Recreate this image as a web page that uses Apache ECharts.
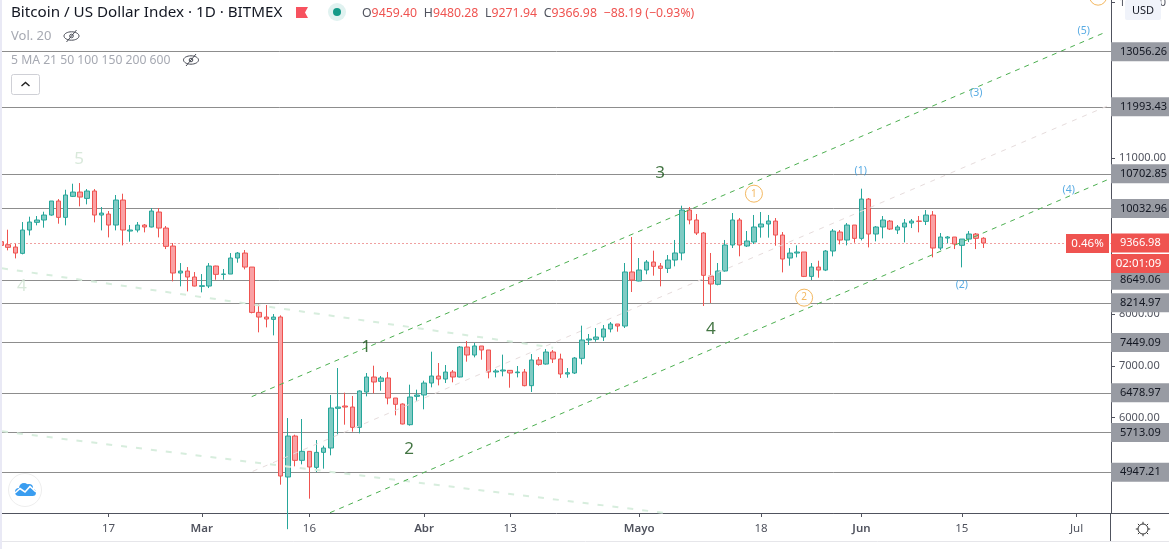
<!DOCTYPE html>
<html><head><meta charset="utf-8">
<style>html,body{margin:0;padding:0;background:#fff}#c{width:1169px;height:549px}</style>
<script src="https://cdn.jsdelivr.net/npm/echarts@6/dist/echarts.min.js"></script>
</head><body><div id="c"></div>
<script>
// day index 0 = 2020-02-02; one value per daily candle
const opens=[9393,9335,9290,9168,9618,9766,9811,9907,10177,9862,10267,10350,10228,10370,9907,9926,9714,10196,9598,9618,9714,9676,9965,9656,9309,8789,8827,8712,8532,8538,8924,8763,8769,9078,9174,8904,8030,7940,7895,7941,4856,5646,5177,5351,5042,5331,5415,6180,6225,6205,5813,6495,6784,6700,6765,6379,6263,5865,6411,6437,6668,6803,6745,6880,6784,7362,7208,7382,7305,6880,6900,6912,6867,6880,6617,7112,7034,7266,7131,6842,6861,7144,7497,7510,7555,7710,7806,7767,8809,8635,8847,9001,8924,8879,9040,9175,10004,9811,9560,8731,8571,8828,9329,9811,9310,9387,9676,9734,9791,9521,9078,9174,9194,8724,8904,8846,9213,9579,9425,9714,9457,10215,9541,9676,9791,9618,9676,9753,9791,9785,9907,9271,9463,9483,9322,9444,9541,9459.40];
const closes=[9322,9284,9174,9618,9772,9811,9907,10177,9862,10293,10350,10254,10370,9907,9945,9714,10196,9618,9618,9714,9676,9984,9656,9303,8789,8827,8712,8538,8544,8924,8763,8769,9078,9174,8904,8030,7940,7902,7940,4875,5646,5177,5351,5049,5331,5415,6186,6205,6205,5813,6514,6784,6688,6765,6379,6257,5878,6398,6437,6668,6803,6745,6880,6784,7362,7208,7382,7305,6880,6900,6919,6861,6880,6617,7112,7028,7266,7131,6842,6867,7150,7497,7517,7555,7710,7806,7767,8809,8654,8847,9001,8918,8879,9040,9175,10004,9811,9560,8744,8577,8828,9329,9811,9329,9406,9676,9734,9792,9521,9059,9174,9194,8724,8904,8846,9213,9598,9425,9714,9457,10215,9541,9676,9811,9637,9676,9753,9791,9785,9907,9271,9483,9483,9348,9444,9541,9457,9366.98];
const lows=[9303,9226,9071,9149,9515,9708,9663,9894,9740,9708,10254,10074,10113,9766,9611,9476,9611,9322,9393,9573,9573,9669,9476,9251,8628,8532,8435,8532,8416,8499,8660,8660,8769,8988,8859,8011,7645,7741,7587,4708,3850,5062,5100,4438,4952,5017,5274,5678,5865,5730,5698,6411,6469,6520,6257,6045,5871,5846,6328,6161,6585,6623,6668,6681,6777,7080,7163,7118,6758,6777,6797,6578,6777,6604,6495,7002,7022,7054,6764,6771,6842,7028,7401,7465,7478,7645,7658,7729,8423,8629,8764,8738,8532,8789,8918,9034,9728,9522,8153,8211,8552,8815,9271,9111,9291,9348,9471,9471,9316,8801,8930,9091,8711,8654,8699,8827,9110,9341,9322,9373,9418,9283,9399,9457,9618,9541,9380,9656,9573,9714,9091,9232,9361,9251,8898,9386,9251,9271.94];
const highs=[9431,9624,9354,9772,9875,9888,9971,10177,10215,10395,10511,10524,10408,10408,10061,9984,10293,10318,9714,9772,9733,10042,10042,9695,9367,8981,8904,8808,8769,8981,8930,8866,9174,9194,9232,8904,8197,8172,7998,7973,5993,5672,5974,5351,5569,5460,6437,6957,6482,6418,6527,6861,7002,6803,6880,6379,6276,6636,6540,6713,7272,7054,7015,6919,7382,7478,7439,7382,7305,6938,7215,6919,6996,6938,7227,7169,7324,7304,7234,6957,7169,7774,7613,7729,7787,7844,7806,8982,9483,9078,9040,9220,8982,9136,9426,10087,10062,9927,9580,9175,8982,9426,9946,9850,9599,9908,9965,9908,9849,9579,9271,9322,9194,8981,9026,9232,9637,9618,9753,9714,10415,10235,9695,9888,9811,9714,9830,9830,9888,10003,9984,9560,9502,9483,9444,9598,9560,9480.28];
const levels=[13056.26,11993.43,10702.85,10032.96,8649.06,8214.97,7449.09,6478.97,5713.09,4947.21];
const lastPrice=9366.98;
const yTicks=[14000,13000,12000,11000,10000,9000,8000,7000,6000,5000];
const xTickDays=[15,28,43,59,71,89,106,120,134,150];
const xTickLabels=['17','Mar','16','Abr','13','Mayo','18','Jun','15','Jul'];
const xTickBold=[0,1,0,1,0,1,0,1,0,0];
const upperChannel=[[34.96,6405],[154.2,13442]];
const middleChannel=[[35.1,4965],[154.4,12015]];
const lowerChannel=[[45.88,4168],[154.66,10608]];
const fadedA=[[0.13,8879],[77,7350]];
const fadedB=[[0.13,5736],[92.3,4168]];
const waveDark=[[91.9,10724,'3'],[99,7697,'4'],[50.9,7369,'1'],[56.9,5402,'2']];
const waveFaded=[[10.9,10993,'5'],[2.9,8545,'4']];
const waveBlue=[[119.9,10762,'(1)'],[134,8564,'(2)'],[136,12266,'(3)'],[148.9,10396,'(4)'],[151,13461,'(5)']];
const waveOrange=[[105,10319,'1'],[112,8314,'2'],[153,14117,'5']];

const FONT='"Noto Sans",sans-serif';
const RED='#ef5350',GREEN='#26a69a';
const candles=opens.map((o,i)=>[i,o,closes[i],lows[i],highs[i]]);
const chart=echarts.init(document.getElementById('c'),null,{renderer:'canvas'});

function lineSeries(data,color,width,dash){
  return {type:'line',data:data,symbol:'none',silent:true,clip:true,z:3,
    lineStyle:{color:color,width:width,type:dash}};
}
function labelSeries(data,color,size,extra){
  return Object.assign({type:'scatter',data:data,silent:true,symbolSize:0,clip:false,z:5,
    label:{show:true,position:'inside',color:color,fontSize:size,fontFamily:FONT,formatter:p=>p.value[2]}},extra||{});
}
const tagLabel=(v,bg,fg)=>({show:true,position:'end',distance:0,formatter:()=>v.toFixed(2),backgroundColor:bg,color:fg,
    width:49,height:19,lineHeight:19,padding:[0,0,0,9],align:'left',verticalAlign:'middle',fontSize:11,fontFamily:FONT});
const tag=(v)=>({yAxis:v,lineStyle:{color:'#8d8d8d',width:1,type:'solid'},label:tagLabel(v,'#989ba3','#131722')});

function eye(cx,cy){
  return [
   {type:'ellipse',shape:{cx:cx,cy:cy,rx:7.5,ry:4.2},style:{fill:'none',stroke:'#4a4d57',lineWidth:1},z:20},
   {type:'circle',shape:{cx:cx,cy:cy,r:1.8},style:{fill:'none',stroke:'#4a4d57',lineWidth:1},z:20},
   {type:'line',shape:{x1:cx-5,y1:cy+6,x2:cx+5,y2:cy-6},style:{stroke:'#4a4d57',lineWidth:1},z:20}
  ];
}
const txt=(x,y,text,size,color,extra)=>({type:'text',x:x,y:y,z:20,style:Object.assign({text:text,fontSize:size,fill:color,fontFamily:FONT,verticalAlign:'middle'},extra||{})});
const gearTicks=[];
for(let a=0;a<8;a++){const t=a*Math.PI/4;
  gearTicks.push({type:'line',shape:{x1:1143+Math.cos(t)*5,y1:529+Math.sin(t)*5,x2:1143+Math.cos(t)*7.2,y2:529+Math.sin(t)*7.2},style:{stroke:'#333',lineWidth:1},z:20});}
const BLUE='#3a9df0';
const graphics=[
  {type:'rect',shape:{x:0,y:0,width:2,height:549},style:{fill:'#e9e9f5'},z:30},
  {type:'line',shape:{x1:1111,y1:513.5,x2:1169,y2:513.5},style:{stroke:'#50535e',lineWidth:1},z:20},
  {type:'line',shape:{x1:1110.5,y1:513,x2:1110.5,y2:541},style:{stroke:'#50535e',lineWidth:1},z:20},
  {type:'line',shape:{x1:2,y1:541.5,x2:1169,y2:541.5},style:{stroke:'#e6e6ea',lineWidth:1},z:20},
  txt(11,12.5,'Bitcoin / US Dollar Index · 1D · BITMEX',15.2,'#131722'),
  {type:'polygon',shape:{points:[[296,7],[308,7],[305,12.5],[308,18],[296,18]]},style:{fill:'#f7525f'},z:20},
  {type:'circle',shape:{cx:337,cy:12,r:9},style:{fill:'#e0f2f0'},z:20},
  {type:'circle',shape:{cx:337,cy:12,r:4},style:{fill:'#159a88'},z:20},
  {type:'text',x:362,y:13.5,z:20,style:{rich:{g:{fill:'#50535e',fontSize:12.3,fontFamily:FONT},r:{fill:RED,fontSize:12.3,fontFamily:FONT}},
    text:'{g|O}{r|9459.40}  {g|H}{r|9480.28}  {g|L}{r|9271.94}  {g|C}{r|9366.98}  {r|−88.19 (−0.93%)}',verticalAlign:'middle'}},
  txt(11,36.5,'Vol. 20',13,'#a6a9b2'),
  ...eye(71.5,36),
  txt(11,60.5,'5 MA 21 50 100 150 200 600',12.2,'#a6a9b2'),
  ...eye(191,60),
  {type:'rect',shape:{x:11.5,y:74.5,width:28,height:20,r:2},style:{fill:'#fff',stroke:'#cfd0d6',lineWidth:1},z:20},
  {type:'polyline',shape:{points:[[21.5,86],[25.5,82.5],[29.5,86]]},style:{fill:'none',stroke:'#222',lineWidth:1.4},z:20},
  {type:'rect',shape:{x:1125,y:0,width:36,height:20,r:2},style:{fill:'#f0f3fa'},z:21},
  {type:'text',x:1143,y:11,z:22,style:{text:'USD',fontSize:11,fontFamily:FONT,fill:'#131722',align:'center',verticalAlign:'middle'}},
  {type:'rect',shape:{x:1066,y:234,width:43,height:19},style:{fill:RED},z:21},
  {type:'text',x:1087.5,y:244,z:22,style:{text:'0.46%',fontSize:11.5,fontFamily:FONT,fill:'#fff',align:'center',verticalAlign:'middle'}},
  {type:'rect',shape:{x:1111,y:254,width:58,height:19},style:{fill:RED},z:21},
  {type:'text',x:1138.5,y:264,z:22,style:{text:'02:01:09',fontSize:11.5,fontFamily:FONT,fill:'#fff',align:'center',verticalAlign:'middle'}},
  {type:'circle',shape:{cx:25,cy:490,r:16.5},style:{fill:'#fff',stroke:'#eeeeee',lineWidth:1},z:20},
  {type:'circle',shape:{cx:19,cy:492,r:4},style:{fill:BLUE},z:20},
  {type:'circle',shape:{cx:24,cy:488,r:5},style:{fill:BLUE},z:20},
  {type:'circle',shape:{cx:29,cy:488,r:4},style:{fill:BLUE},z:20},
  {type:'circle',shape:{cx:32.5,cy:492.5,r:3.5},style:{fill:BLUE},z:20},
  {type:'rect',shape:{x:19,y:490,width:14,height:6},style:{fill:BLUE},z:20},
  {type:'polyline',shape:{points:[[15,493],[20,488.5],[25,492],[30,486.5],[36,492]]},style:{fill:'none',stroke:'#fff',lineWidth:1.6},z:21},
  {type:'circle',shape:{cx:1143,cy:529,r:5},style:{fill:'none',stroke:'#333',lineWidth:1},z:20},
  ...gearTicks
];

chart.setOption({
  animation:false,backgroundColor:'#fff',
  grid:{left:2,right:58,top:0,bottom:36,containLabel:false,outerBoundsMode:'none'},
  xAxis:{type:'value',min:0.131,max:154.8,scale:true,splitLine:{show:false},
    axisLine:{onZero:false,lineStyle:{color:'#50535e',width:1}},
    axisTick:{show:true,length:4,customValues:xTickDays,lineStyle:{color:'#50535e'},inside:false},
    axisLabel:{customValues:xTickDays,margin:10,color:'#50535e',fontSize:11.5,fontFamily:FONT,
      formatter:v=>{const i=xTickDays.indexOf(v);return xTickBold[i]?'{b|'+xTickLabels[i]+'}':xTickLabels[i];},
      rich:{b:{fontWeight:600,color:'#50535e',fontSize:11.5,fontFamily:FONT}}}},
  yAxis:{type:'value',position:'right',min:4162,max:14053,scale:true,splitLine:{show:false},
    axisLine:{show:true,onZero:false,lineStyle:{color:'#50535e',width:1}},
    axisTick:{show:true,length:4,customValues:yTicks.concat(levels,[lastPrice]),lineStyle:{color:'#50535e'}},
    axisLabel:{customValues:yTicks,margin:8,color:'#50535e',fontSize:11,fontFamily:FONT,align:'left',
      hideOverlap:false,formatter:v=>v.toFixed(2)}},
  series:[
    {type:'line',data:[],symbol:'none',silent:true,z:1,
      markLine:{silent:true,symbol:'none',animation:false,precision:2,clip:false,z:1,
        data:levels.map(tag).concat([{yAxis:lastPrice,lineStyle:{color:'#f0a0a0',width:1,type:[2,2]},label:tagLabel(lastPrice,RED,'#fff')}])}},
    {type:'candlestick',data:candles,encode:{x:0,y:[1,2,3,4]},barWidth:5,clip:true,silent:true,z:2,
      itemStyle:{color:'#80cbc4',color0:'#faa1a4',borderColor:GREEN,borderColor0:RED,borderColorDoji:GREEN,borderWidth:1}},
    lineSeries(fadedA,'#d7eddd',2,[6,9]),
    lineSeries(fadedB,'#d7eddd',2,[6,9]),
    lineSeries(upperChannel,'#4caf50',1,[5,5]),
    lineSeries(lowerChannel,'#4caf50',1,[5,5]),
    lineSeries(middleChannel,'#e6dcdc',1,[5,6]),
    labelSeries(waveDark,'#145214',17),
    labelSeries(waveFaded,'#cfe3d2',17),
    labelSeries(waveBlue,'#2e96dc',10.5),
    labelSeries(waveOrange,'#f0a63a',10,{symbol:'circle',symbolSize:17,itemStyle:{color:'#fff',borderColor:'#f0a63a',borderWidth:1}})
  ],
  graphic:{elements:graphics}
});
</script></body></html>
